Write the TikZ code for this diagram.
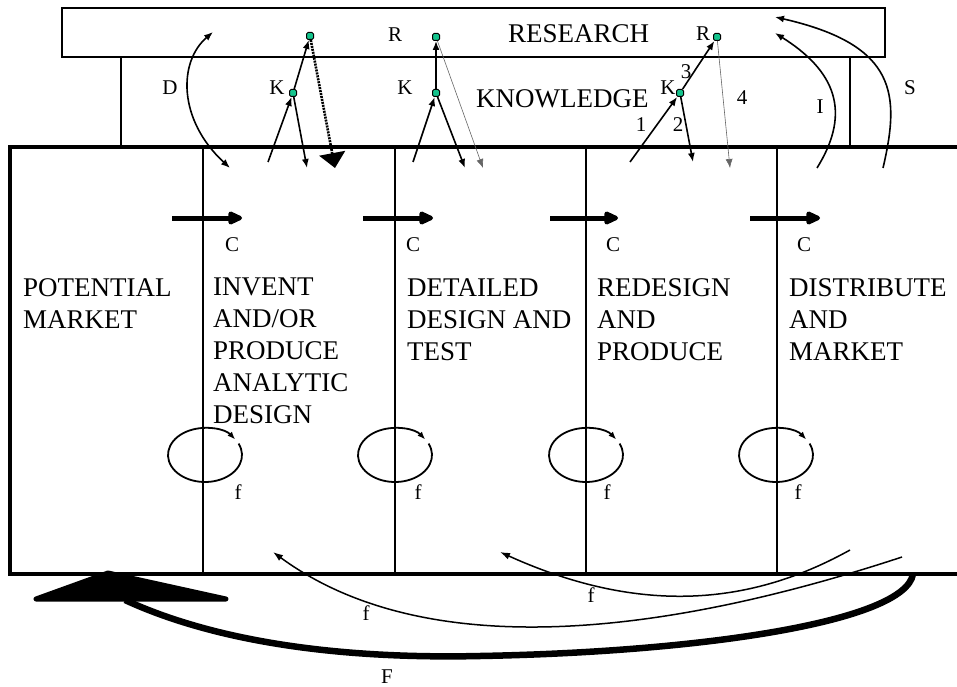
\documentclass[tikz,border=0pt]{standalone}
\usepackage{fontspec}
\setmainfont{Liberation Serif}
\usetikzlibrary{arrows.meta}
\definecolor{dotgreen}{RGB}{20,195,140}
\begin{document}
\begin{tikzpicture}[x=1pt,y=-1pt,
  big/.style={font=\fontsize{27}{32}\selectfont, inner sep=0pt, anchor=north west, align=left},
  lbl/.style={font=\fontsize{21}{24}\selectfont, inner sep=0pt},
  kdot/.style={draw=black, fill=dotgreen, minimum size=7pt, inner sep=0pt, line width=1pt, rectangle, rounded corners=1.5pt},
  lnk/.style={line width=1.6pt, -{Latex[length=9pt,width=7pt]}},
  thinlnk/.style={line width=0.6pt, draw=black!60, -{Latex[length=9pt,width=7pt]}},
  fatlnk/.style={line width=2.6pt, dash pattern=on 2pt off 1pt, -{Triangle[length=15pt,width=26pt]}},
  carrow/.style={line width=5pt, -{Triangle[length=17pt,width=14pt,round]}},
  cycl/.style={line width=1.8pt, -{Latex[length=8pt,width=6pt]}},
  fb/.style={line width=1.5pt, -{Latex[length=10pt,width=7pt]}},
  frame/.style={line width=4pt},
]
\useasboundingbox (0,0) rectangle (957,687);
% upper boxes
\draw[line width=2pt] (62,8) rectangle (885,57);
\draw[line width=2pt] (121,147) -- (121,57) (850,57) -- (850,147);
\node[anchor=base west, inner sep=0pt, font=\fontsize{27}{32}\selectfont] (research) at (508,43) {RESEARCH};
\node[anchor=base west, inner sep=0pt, font=\fontsize{27}{32}\selectfont] (knowledge) at (476,108) {KNOWLEDGE};
% main frame
\draw[frame] (957,147) -- (10,147) -- (10,574) -- (957,574);
\draw[line width=1.2pt] (203,147) -- (203,574) (395,147) -- (395,574);
\draw[line width=2pt] (586,147) -- (586,574) (777,147) -- (777,574);
% column texts
\node[big] (pm) at (23,278) {POTENTIAL\\MARKET};
\node[big] (inv) at (213,278) {INVENT\\AND/OR\\PRODUCE\\ANALYTIC\\DESIGN};
\node[big] (det) at (407,278) {DETAILED\\DESIGN AND\\TEST};
\node[big] (red) at (597,278) {REDESIGN\\AND\\PRODUCE};
\node[big] (dis) at (789,278) {DISTRIBUTE\\AND\\MARKET};
% C arrows
\foreach \i/\xa/\xb/\xl in {1/172/242/232, 2/363/433/413, 3/550/618/613, 4/750/820/804}{
  \coordinate (cs\i) at (\xa,218);
  \coordinate (ce\i) at (\xb,218);
  \draw[carrow] (cs\i) -- (ce\i);
  \node[lbl] (cl\i) at (\xl,245) {C};
}
% small feedback cycles
\foreach \i/\cx/\fx in {1/205/238, 2/395/418, 3/586/607, 4/776/798}{
  \coordinate (cy\i) at (\cx,455);
  \draw[cycl] (cy\i) ++(-385:37 and 27) arc[start angle=-385, end angle=-35, x radius=37, y radius=27];
  \node[lbl] (fl\i) at (\fx,492) {f};
}
% dots
\node[kdot] (R1) at (310,36) {};
\node[kdot] (K1) at (293,93) {};
\node[kdot] (R2) at (436,37) {};
\node[kdot] (K2) at (436,93) {};
\node[kdot] (R3) at (717,37) {};
\node[kdot] (K3) at (680,93) {};
% labels
\node[lbl] (Dl) at (170,88) {D};
\node[lbl] (K1l) at (277,88) {K};
\node[lbl] (K2l) at (405,88) {K};
\node[lbl] (R2l) at (395,35) {R};
\node[lbl] (R3l) at (703,34) {R};
\node[lbl] (K3l) at (668,88) {K};
\node[lbl] (n1) at (641,125) {1};
\node[lbl] (n2) at (678,125) {2};
\node[lbl] (n3) at (686,72) {3};
\node[lbl] (n4) at (742,98) {4};
\node[lbl] (Il) at (820,107) {I};
\node[lbl] (Sl) at (910,88) {S};
% free ends
\coordinate (Dt) at (213,32);
\coordinate (Db) at (230,168);
\coordinate (a1) at (268,162);
\coordinate (b1) at (307,168);
\coordinate (d1) at (335,168);
\coordinate (a2) at (413,162);
\coordinate (b2) at (465,168);
\coordinate (d2) at (483,168);
\coordinate (a3) at (630,162);
\coordinate (b3) at (693,162);
\coordinate (d3) at (730,168);
\coordinate (Ib) at (817,168);
\coordinate (It) at (775,33);
\coordinate (Sb) at (883,168);
\coordinate (St) at (775,17);
% D
\draw[line width=1.6pt, {Latex[length=9pt,width=7pt]}-{Latex[length=9pt,width=7pt]}] (Dt) .. controls (178,62) and (178,120) .. (Db);
% group 1
\draw[lnk] (a1) -- (K1);
\draw[lnk] (K1) -- (R1);
\draw[lnk] (K1) -- (b1);
\draw[fatlnk] (R1) -- (d1);
% group 2
\draw[lnk] (a2) -- (K2);
\draw[lnk] (K2) -- (R2);
\draw[lnk] (K2) -- (b2);
\draw[thinlnk] (R2) -- (d2);
% group 3
\draw[lnk] (a3) -- (K3);
\draw[lnk] (K3) -- (R3);
\draw[lnk] (K3) -- (b3);
\draw[thinlnk] (R3) -- (d3);
% I and S
\draw[lnk] (Ib) .. controls (848,118) and (842,75) .. (It);
\draw[lnk] (Sb) .. controls (900,95) and (898,45) .. (St);
% bottom feedback
\coordinate (fa1) at (902,557);
\coordinate (fe1) at (273,552);
\coordinate (fa2) at (850,550);
\coordinate (fe2) at (500,552);
\draw[fb] (fa1) .. controls (650,640) and (420,660) .. (fe1);
\draw[fb] (fa2) .. controls (760,600) and (650,620) .. (fe2);
\node[lbl] (fb1) at (366,613) {f};
\node[lbl] (fb2) at (591,595) {f};
% big F
\coordinate (Fs) at (913,574);
\coordinate (Fm) at (480,656);
\coordinate (Fe) at (125,600);
\draw[line width=6.5pt] (Fs) .. controls (905,622) and (700,652) .. (Fm) .. controls (300,660) and (190,630) .. (Fe);
\fill[draw, line width=5pt, line join=round] (36,599) -- (108,573) -- (226,599) -- cycle;
\node[lbl] (Fl) at (387,677) {F};
\end{tikzpicture}
\end{document}
